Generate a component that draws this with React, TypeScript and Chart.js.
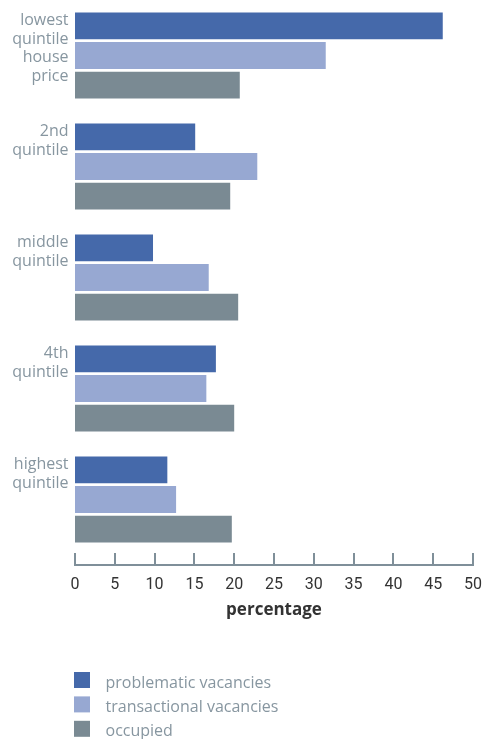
import { useEffect, useRef } from "react";
import { Chart, registerables } from "chart.js";

Chart.register(...registerables);

// Category labels (padded to four lines so every label hangs from the same top line)
const categories: string[][] = [
  ["lowest", "quintile", "house", "price"],
  ["2nd", "quintile", "", ""],
  ["middle", "quintile", "", ""],
  ["4th", "quintile", "", ""],
  ["highest", "quintile", "", ""],
];

const seriesNames = ["problematic vacancies", "transactional vacancies", "occupied"];

// Shares by house-price quintile, in percent
const problematic = [46.2, 15.1, 9.8, 17.7, 11.6];
const transactional = [31.5, 22.9, 16.8, 16.5, 12.7];
const occupied = [20.7, 19.5, 20.5, 20.0, 19.7];

const xMin = 0;
const xMax = 50;
const xStep = 5;
const xTitle = "percentage";

const COLORS = ["#4569aa", "#97a8d2", "#7a8a93"];
const LABEL_GRAY = "#8796a0";
const AXIS_GRAY = "#7f8f99";
const DARK = "#333333";

// Axis drawn like a ruler: baseline under the chart with the tick marks rising from it
const rulerAxis = {
  id: "rulerAxis",
  afterDraw(chart: any) {
    const { ctx, chartArea } = chart;
    const xs = chart.scales.x;
    const lineY = chartArea.bottom + 10;
    ctx.save();
    ctx.strokeStyle = AXIS_GRAY;
    ctx.lineWidth = 2;
    ctx.beginPath();
    ctx.moveTo(xs.getPixelForValue(xMin) - 1, lineY);
    ctx.lineTo(xs.getPixelForValue(xMax) + 1, lineY);
    xs.ticks.forEach((_t: any, i: number) => {
      const px = Math.round(xs.getPixelForTick(i));
      ctx.moveTo(px, lineY);
      ctx.lineTo(px, chartArea.bottom - 2);
    });
    ctx.stroke();
    ctx.restore();
  },
};

// Legend stacked in one column under the axis
const stackedLegend = {
  id: "stackedLegend",
  afterDraw(chart: any) {
    const { ctx, chartArea } = chart;
    const top = chartArea.bottom + 117;
    ctx.save();
    ctx.font = '16px "Open Sans"';
    ctx.textBaseline = "middle";
    ctx.textAlign = "left";
    chart.data.datasets.forEach((ds: any, i: number) => {
      const y = top + i * 24.4;
      ctx.fillStyle = ds.backgroundColor;
      ctx.fillRect(chartArea.left - 1, y, 16, 16);
      ctx.fillStyle = LABEL_GRAY;
      ctx.fillText(ds.label, chartArea.left + 30.5, y + 11);
    });
    ctx.restore();
  },
};

export default function App() {
  const canvasRef = useRef<HTMLCanvasElement | null>(null);

  useEffect(() => {
    document.body.style.margin = "0";
    const canvas = canvasRef.current;
    if (!canvas) return;

    const chart = new Chart(canvas, {
      type: "bar",
      data: {
        labels: categories,
        datasets: [problematic, transactional, occupied].map((values, i) => ({
          label: seriesNames[i],
          data: values,
          backgroundColor: COLORS[i],
          borderWidth: 0,
          categoryPercentage: 0.8,
          barPercentage: 0.91,
        })),
      },
      options: {
        indexAxis: "y",
        responsive: false,
        animation: false,
        layout: { padding: { top: 0, right: 9, bottom: 119, left: 0 } },
        plugins: {
          legend: { display: false },
          tooltip: { enabled: false },
        },
        scales: {
          x: {
            type: "linear",
            min: xMin,
            max: xMax,
            ticks: {
              stepSize: xStep,
              padding: 20.5,
              color: DARK,
              font: { family: "Roboto", size: 16 },
            },
            grid: { display: false, drawTicks: false },
            border: { display: false },
            title: {
              display: true,
              text: xTitle,
              color: DARK,
              font: { family: '"Open Sans"', size: 17, weight: "bold" },
              padding: { top: 5, bottom: 0 },
            },
            afterFit(scale: any) {
              scale.height = 65;
              scale.paddingLeft = 0;
              scale.paddingRight = 0;
            },
          },
          y: {
            type: "category",
            grid: { display: false, drawTicks: false },
            border: { display: false },
            ticks: {
              autoSkip: false,
              padding: 6.5,
              labelOffset: -7,
              color: LABEL_GRAY,
              font: { family: '"Open Sans"', size: 16, lineHeight: 1.17 },
            },
            afterFit(scale: any) {
              scale.width = 75;
              scale.paddingTop = 0;
              scale.paddingBottom = 0;
            },
          },
        },
      },
      plugins: [rulerAxis, stackedLegend],
    } as any);

    return () => chart.destroy();
  }, []);

  return (
    <div style={{ width: 482, height: 739 }}>
      <canvas ref={canvasRef} width={482} height={739} style={{ display: "block" }} />
    </div>
  );
}
